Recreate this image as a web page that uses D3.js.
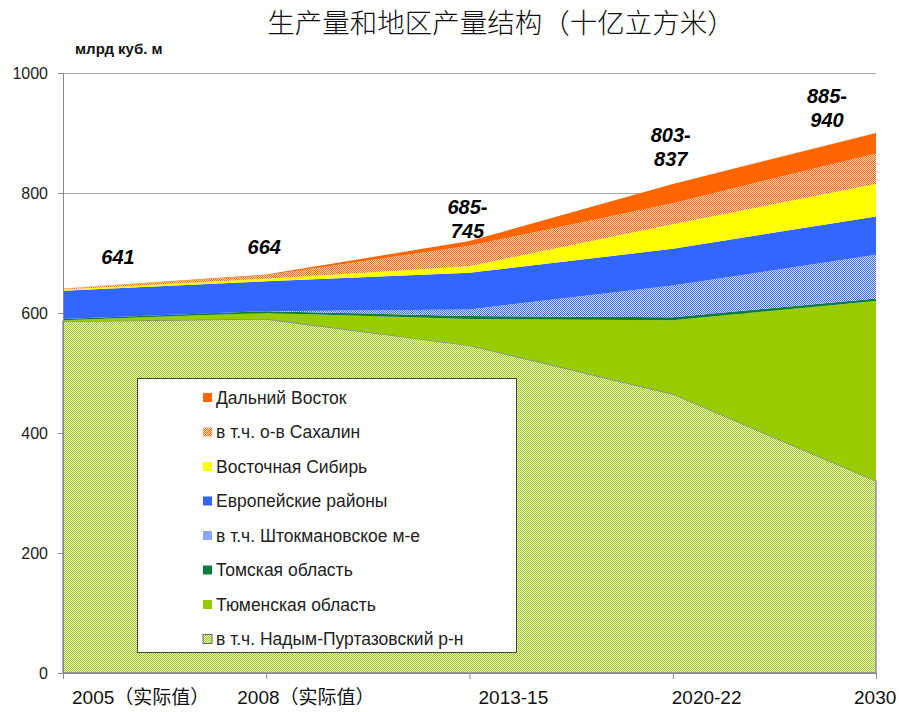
<!DOCTYPE html>
<html lang="zh">
<head>
  <meta charset="UTF-8">
  <title>生产量和地区产量结构</title>
  <script src="https://cdn.jsdelivr.net/npm/d3@7"></script>
  <style>
    body {
      margin: 0;
      background: #fff;
    }
    svg text {
      font-family: 'Liberation Sans', Arial, 'Noto Sans CJK SC', sans-serif;
    }
    .title {
      font-family: 'Noto Sans CJK SC', sans-serif !important;
      font-size: 27.5px;
      font-weight: 300;
      fill: #111;
    }
    .unit { font-size: 15px; font-weight: bold; fill: #111; }
    .axis text { font-size: 16px; fill: #222; }
    .xlabel { font-size: 19px; fill: #111; }
    .total { font-size: 20px; font-weight: bold; font-style: italic; fill: #000; }
    .legend text { font-size: 17.5px; fill: #222; }
  </style>
</head>
<body>
<div id="chart"></div>
<script>
  // categories (x axis)
  const periods = ['2005（实际值）', '2008（实际值）', '2013-15', '2020-22', '2030'];

  // series values, bottom of stack to top (млрд куб. м)
  const nadym     = [586, 590, 546, 465, 320];
  const tyumen    = [2, 10, 44, 123, 300];
  const tomsk     = [2, 3, 5, 5, 4];
  const shtokman  = [0, 0, 11, 53, 73];
  const european  = [47, 50, 61, 61, 64];
  const eastSib   = [2, 4, 11, 41, 54];
  const sakhalin  = [1.5, 6, 34, 35, 51];
  const farEast   = [0.5, 1, 8, 32, 34];

  const seriesNames = [
    'в т.ч. Надым-Пуртазовский р-н',
    'Тюменская область',
    'Томская область',
    'в т.ч. Штокмановское м-е',
    'Европейские районы',
    'Восточная Сибирь',
    'в т.ч. о-в Сахалин',
    'Дальний Восток'
  ];

  // printed total ranges above the stack
  const totalLabels = [['641'], ['664'], ['685-', '745'], ['803-', '837'], ['885-', '940']];

  const yTicks = [0, 200, 400, 600, 800, 1000];

  const allSeries = [nadym, tyumen, tomsk, shtokman, european, eastSib, sakhalin, farEast];
  const keys = ['nadym', 'tyumen', 'tomsk', 'shtokman', 'european', 'eastSib', 'sakhalin', 'farEast'];
  const table = periods.map((p, i) => {
    const row = { period: p };
    keys.forEach((k, j) => { row[k] = allSeries[j][i]; });
    return row;
  });

  const width = 899, height = 712;
  const svg = d3.select('#chart').append('svg')
    .attr('width', width)
    .attr('height', height);

  // patterns for the "в т.ч." series
  const defs = svg.append('defs');
  function checker(id, color, light) {
    const p = defs.append('pattern')
      .attr('id', id)
      .attr('width', 2).attr('height', 2)
      .attr('patternUnits', 'userSpaceOnUse');
    p.append('rect').attr('width', 2).attr('height', 2).attr('fill', light);
    p.append('rect').attr('width', 1).attr('height', 1).attr('fill', color);
    p.append('rect').attr('x', 1).attr('y', 1).attr('width', 1).attr('height', 1).attr('fill', color);
  }
  checker('patNadym', '#99cc00', '#f2f8dc');
  checker('patShtok', '#3366ff', '#dde6ff');
  checker('patSakh', '#ff6600', '#ffe0c8');

  const fills = ['url(#patNadym)', '#99cc00', '#0e7c3a', 'url(#patShtok)', '#3366ff', '#ffff00', 'url(#patSakh)', '#ff6600'];

  const x = d3.scalePoint().domain(periods).range([63, 876]);
  const y = d3.scaleLinear().domain([0, 1000]).range([673, 73]);

  // gridlines
  svg.append('g')
    .selectAll('line')
    .data(yTicks.filter(d => d > 0))
    .enter().append('line')
    .attr('x1', x.range()[0]).attr('x2', x.range()[1])
    .attr('y1', d => y(d)).attr('y2', d => y(d))
    .attr('stroke', '#a6a6a6')
    .attr('stroke-width', 1)
    .attr('shape-rendering', 'crispEdges');

  // stacked areas
  const stack = d3.stack().keys(keys);
  const layers = stack(table);

  const area = d3.area()
    .x(d => x(d.data.period))
    .y0(d => y(d[0]))
    .y1(d => y(d[1]));

  svg.append('g')
    .selectAll('path')
    .data(layers)
    .enter().append('path')
    .attr('d', area)
    .attr('fill', (d, i) => fills[i])
    .attr('stroke', (d, i) => i === 0 ? '#8080a0' : 'none')
    .attr('stroke-width', 1.3);

  // y axis
  const yAxis = svg.append('g')
    .attr('class', 'axis')
    .attr('transform', `translate(${x.range()[0]},0)`)
    .call(d3.axisLeft(y).tickValues(yTicks).tickFormat(d3.format('d')).tickSize(5).tickPadding(10));
  yAxis.select('.domain').attr('stroke', '#888');
  yAxis.selectAll('.tick line').attr('stroke', '#888');

  // x axis
  const xAxis = svg.append('g')
    .attr('class', 'axis')
    .attr('transform', `translate(0,${y(0)})`)
    .call(d3.axisBottom(x).tickSize(6).tickFormat(''));
  xAxis.select('.domain').attr('stroke', '#888');
  xAxis.selectAll('.tick line').attr('stroke', '#888');

  const xLabelDx = [9, -29, 9, -1, -22];
  svg.append('g')
    .selectAll('text')
    .data(periods)
    .enter().append('text')
    .attr('class', 'xlabel')
    .attr('x', (d, i) => x(d) + xLabelDx[i])
    .attr('y', 704)
    .text(d => d);

  // title & unit
  svg.append('text')
    .attr('class', 'title')
    .attr('x', 501).attr('y', 33)
    .attr('text-anchor', 'middle')
    .text('生产量和地区产量结构（十亿立方米）');

  svg.append('text')
    .attr('class', 'unit')
    .attr('x', 75).attr('y', 54)
    .text('млрд куб. м');

  // totals
  const totalDx = [55, -2, -2, -2, -49];
  const totalAt = [682, 698, 725, 845, 910];
  totalLabels.forEach((lines, i) => {
    const t = svg.append('text')
      .attr('class', 'total')
      .attr('text-anchor', 'middle')
      .attr('x', x(periods[i]) + totalDx[i])
      .attr('y', y(totalAt[i]) - (lines.length - 1) * 24);
    lines.forEach((s, j) => {
      t.append('tspan')
        .attr('x', x(periods[i]) + totalDx[i])
        .attr('dy', j === 0 ? 0 : 24)
        .text(s);
    });
  });

  // legend
  const legend = svg.append('g').attr('class', 'legend');
  legend.append('rect')
    .attr('x', 137.5).attr('y', 378.5)
    .attr('width', 379).attr('height', 274)
    .attr('fill', '#fff')
    .attr('stroke', '#444')
    .attr('stroke-width', 1);

  const legendOrder = d3.range(seriesNames.length).reverse();
  const rows = legend.selectAll('g.row')
    .data(legendOrder)
    .enter().append('g')
    .attr('class', 'row')
    .attr('transform', (d, i) => `translate(203,${397.5 + i * 34.5})`);

  rows.append('rect')
    .attr('x', 0).attr('y', -4.5)
    .attr('width', 9).attr('height', 9)
    .attr('fill', d => fills[d])
    .attr('stroke', d => d === 0 ? '#666688' : 'none')
    .attr('stroke-width', 1);

  rows.append('text')
    .attr('x', 13)
    .attr('y', 6)
    .text(d => seriesNames[d]);
</script>
</body>
</html>
